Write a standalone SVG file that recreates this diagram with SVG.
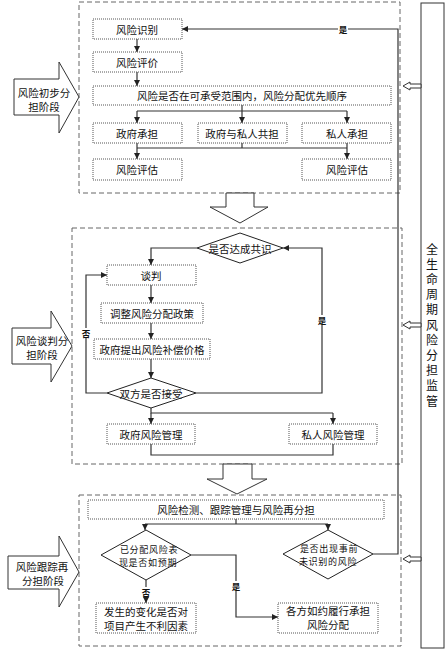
<svg xmlns="http://www.w3.org/2000/svg" width="447" height="651" viewBox="0 0 447 651">
<style>
text{font-family:"Noto Sans CJK SC","Noto Sans CJK JP",sans-serif;fill:#111;text-anchor:middle;dominant-baseline:central}
.t{font-size:10.5px}
.s{font-size:9px;letter-spacing:0.7px}
.lb{font-size:8.5px;font-weight:bold}
.v{font-size:12px;letter-spacing:3.2px}
.box{fill:#fff;stroke:#555;stroke-width:1;stroke-dasharray:1 1}
.stage{fill:none;stroke:#666;stroke-width:1;stroke-dasharray:5 3}
.big{fill:#fff;stroke:#333;stroke-width:1}
.dia{fill:#fff;stroke:#222;stroke-width:1}
.c{fill:none;stroke:#333;stroke-width:1.2}
.ca{fill:none;stroke:#333;stroke-width:1.2;marker-end:url(#ah)}
.bg{fill:#fff}
</style>
<defs>
<marker id="ah" viewBox="0 0 6 6" refX="6" refY="3" markerWidth="6" markerHeight="6" markerUnits="userSpaceOnUse" orient="auto"><path d="M0,0 L6,3 L0,6 z" fill="#222"/></marker>
</defs>

<!-- stage frames -->
<g id="stage1"><rect class="stage" x="79" y="2" width="321" height="191"/></g>
<g id="stage2"><rect class="stage" x="72" y="228" width="330" height="236"/></g>
<g id="stage3"><rect class="stage" x="79" y="495" width="322" height="151"/></g>

<!-- connectors -->
<g id="connectors">
  <path class="ca" d="M137,39 V52"/>
  <path class="ca" d="M137,72 V86"/>
  <path class="c" d="M242,105 V111 M137,111 H347"/>
  <path class="ca" d="M137,111 V123"/>
  <path class="ca" d="M242,111 V123"/>
  <path class="ca" d="M347,111 V123"/>
  <path class="c" d="M242,143 V148 M137,148 H347"/>
  <path class="ca" d="M137,143 V159"/>
  <path class="ca" d="M347,143 V159"/>
  <path class="ca" d="M373,554 H398 V29 H182"/>
  <rect class="bg" x="338" y="24" width="10" height="10"/>
  <text class="lb" x="343" y="29">是</text>

  <path class="ca" d="M197,248 H151 V265"/>
  <path class="ca" d="M151,285 V303"/>
  <path class="ca" d="M151,323 V339"/>
  <path class="ca" d="M151,359 V378"/>
  <path class="ca" d="M107,393 H86 V275 H107"/>
  <rect class="bg" x="81" y="328" width="10" height="10"/>
  <text class="lb" x="86" y="333">否</text>
  <path class="ca" d="M196,393 H322 V248 H283"/>
  <rect class="bg" x="317" y="315" width="10" height="10"/>
  <text class="lb" x="322" y="320">是</text>
  <path class="c" d="M151,408 V413 H333"/>
  <path class="ca" d="M151,413 V424"/>
  <path class="ca" d="M333,413 V424"/>
  <path class="c" d="M151,444 V455 H333 V444"/>

  <path class="c" d="M236,519 V524 M145,524 H328"/>
  <path class="ca" d="M145,524 V530"/>
  <path class="ca" d="M328,524 V530"/>
  <path class="ca" d="M146,580 V603"/>
  <rect class="bg" x="141" y="587" width="10" height="10"/>
  <text class="lb" x="146" y="592">否</text>
  <path class="ca" d="M191,555 H236 V617 H278"/>
  <rect class="bg" x="231" y="581" width="10" height="10"/>
  <text class="lb" x="236" y="586">是</text>
</g>

<!-- big hollow arrows -->
<g id="arrow-stage1"><path class="big" d="M14,79 H59 V62 L79,97 L59,133 V115 H14 Z"/><text class="t"><tspan x="44" y="92">风险初步分</tspan><tspan x="44" y="106">担阶段</tspan></text></g>
<g id="arrow-stage2"><path class="big" d="M12,328 H51 V311 L72,346 L51,382 V364 H12 Z"/><text class="t"><tspan x="42" y="340">风险谈判分</tspan><tspan x="42" y="354">担阶段</tspan></text></g>
<g id="arrow-stage3"><path class="big" d="M8,556 H59 V536 L79,572 L59,607 V589 H8 Z"/><text class="t"><tspan x="42" y="566">风险跟踪再</tspan><tspan x="43" y="580">分担阶段</tspan></text></g>
<g id="down1"><path class="big" d="M226,193 H254 V207 H268 L240,223 L210,207 H226 Z"/></g>
<g id="down2"><path class="big" d="M223,464 H252 V479 H267 L237,494 L207,479 H223 Z"/></g>

<!-- monitor -->
<g id="monitor">
  <rect class="big" x="421" y="3" width="23" height="645"/>
  <text class="v" x="432" y="243" writing-mode="vertical-rl" style="text-anchor:start">全生命周期风险分担监管</text>
</g>
<g id="mon-arrow1"><path class="big" d="M403,86 L410,82 V84 H421 V88 H410 V90 Z"/></g>
<g id="mon-arrow2"><path class="big" d="M403,325 L410,321 V323 H421 V327 H410 V329 Z"/></g>
<g id="mon-arrow3"><path class="big" d="M403,559 L410,555 V557 H421 V561 H410 V563 Z"/></g>

<!-- stage 1 nodes -->
<g id="n-identify"><rect class="box" x="93" y="19" width="89" height="20"/><text class="t" x="137" y="29">风险识别</text></g>
<g id="n-evaluate"><rect class="box" x="93" y="52" width="89" height="20"/><text class="t" x="137" y="62">风险评价</text></g>
<g id="n-accept"><rect class="box" x="93" y="86" width="298" height="19"/><text class="t" x="242" y="95.5">风险是否在可承受范围内，风险分配优先顺序</text></g>
<g id="n-gov"><rect class="box" x="93" y="123" width="89" height="20"/><text class="t" x="137" y="133">政府承担</text></g>
<g id="n-share"><rect class="box" x="198" y="123" width="89" height="20"/><text class="t" x="242" y="133">政府与私人共担</text></g>
<g id="n-private"><rect class="box" x="302" y="123" width="89" height="20"/><text class="t" x="347" y="133">私人承担</text></g>
<g id="n-assess1"><rect class="box" x="93" y="159" width="89" height="21"/><text class="t" x="137" y="169.5">风险评估</text></g>
<g id="n-assess2"><rect class="box" x="302" y="159" width="89" height="21"/><text class="t" x="347" y="169.5">风险评估</text></g>

<!-- stage 2 nodes -->
<g id="n-consensus"><path class="dia" d="M197,248 L240,233 L283,248 L240,263 Z"/><text class="t" x="240" y="248">是否达成共识</text></g>
<g id="n-negotiate"><rect class="box" x="107" y="265" width="89" height="20"/><text class="t" x="151" y="275">谈判</text></g>
<g id="n-adjust"><rect class="box" x="101" y="303" width="102" height="20"/><text class="t" x="152" y="313">调整风险分配政策</text></g>
<g id="n-price"><rect class="box" x="94" y="339" width="116" height="20"/><text class="t" x="152" y="349">政府提出风险补偿价格</text></g>
<g id="n-both"><path class="dia" d="M107,393 L151,378 L196,393 L151,408 Z"/><text class="t" x="151" y="393">双方是否接受</text></g>
<g id="n-govmgmt"><rect class="box" x="107" y="424" width="88" height="20"/><text class="t" x="151" y="434">政府风险管理</text></g>
<g id="n-privmgmt"><rect class="box" x="289" y="424" width="88" height="20"/><text class="t" x="333" y="434">私人风险管理</text></g>

<!-- stage 3 nodes -->
<g id="n-track"><rect class="box" x="88" y="500" width="296" height="19"/><text class="t" x="236" y="509.5">风险检测、跟踪管理与风险再分担</text></g>
<g id="n-expected"><path class="dia" d="M101,555 L146,530 L191,555 L146,580 Z"/><text class="s"><tspan x="149" y="549">已分配风险表</tspan><tspan x="148" y="562">现是否如预期</tspan></text></g>
<g id="n-unknown"><path class="dia" d="M283,554 L328,530 L373,554 L328,579 Z"/><text class="s"><tspan x="329" y="548">是否出现事前</tspan><tspan x="328" y="561">未识别的风险</tspan></text></g>
<g id="n-adverse"><rect class="box" x="96" y="603" width="100" height="30"/><text class="t"><tspan x="146" y="611">发生的变化是否对</tspan><tspan x="146" y="625">项目产生不利因素</tspan></text></g>
<g id="n-perform"><rect class="box" x="278" y="603" width="100" height="30"/><text class="t"><tspan x="328" y="610">各方如约履行承担</tspan><tspan x="328" y="624">风险分配</tspan></text></g>
</svg>
